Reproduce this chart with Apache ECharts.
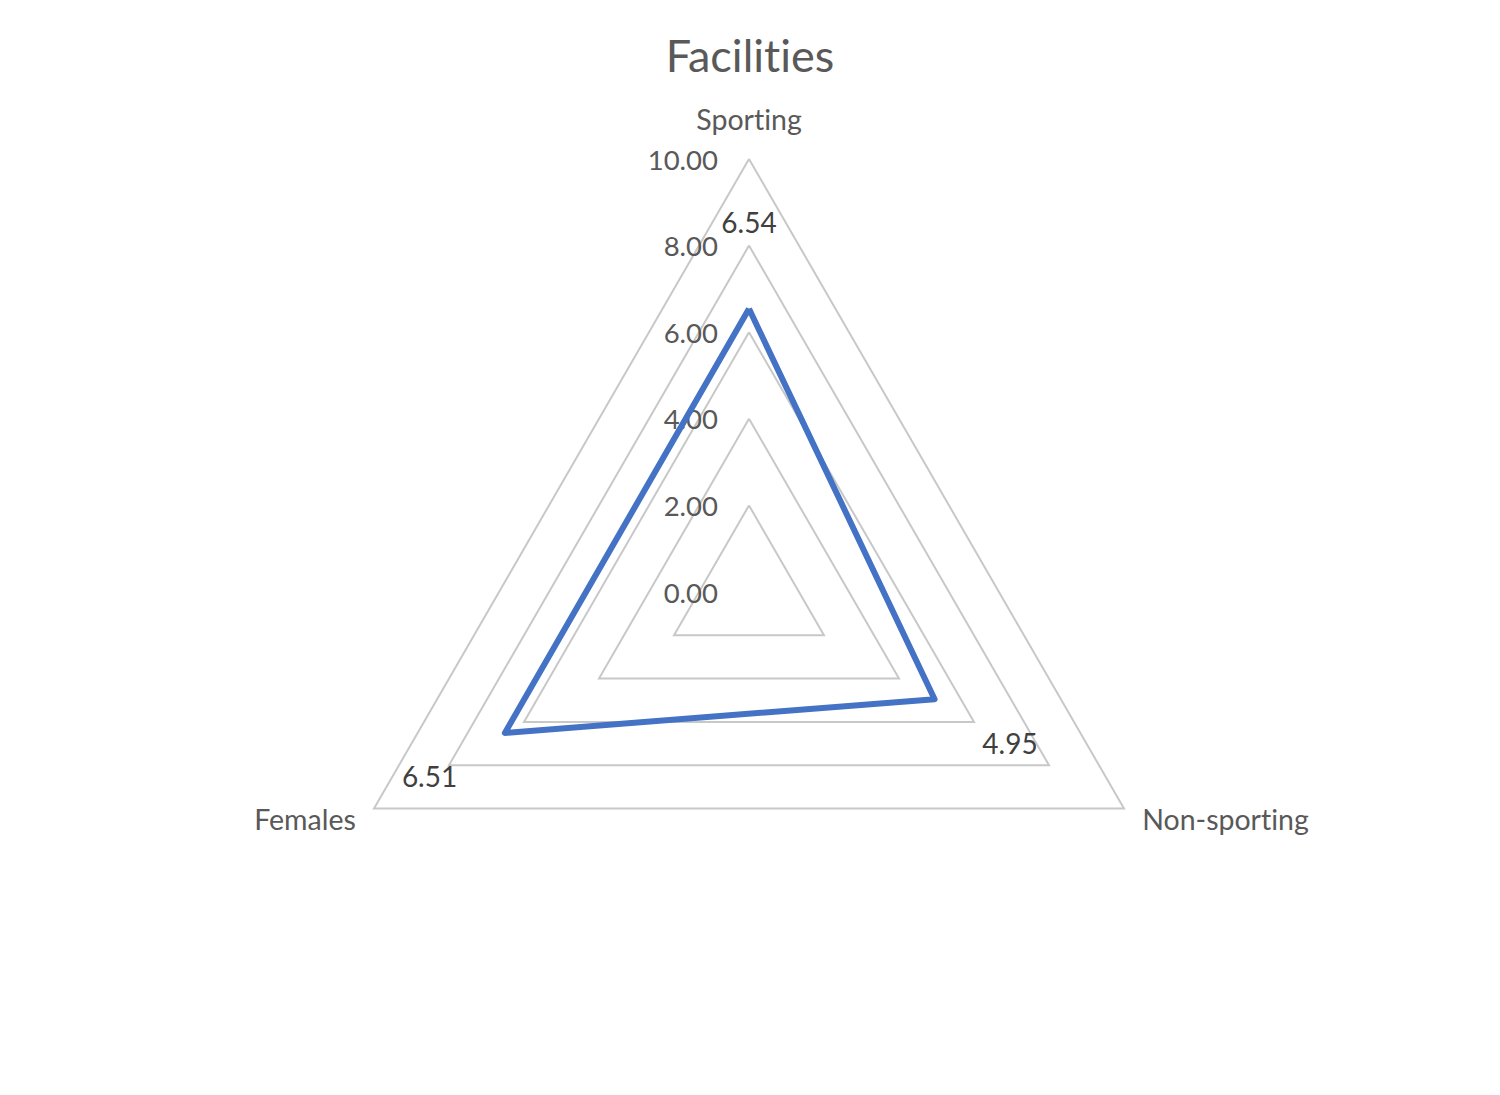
<!DOCTYPE html>
<html>
<head>
<meta charset="utf-8">
<title>Facilities</title>
<script src="https://cdn.jsdelivr.net/npm/echarts@6/dist/echarts.min.js"></script>
<style>
    html, body { margin: 0; padding: 0; background: #fff; }
    #facilities { width: 1500px; height: 1095px; }
    #facilities text { font-variant-ligatures: none; font-feature-settings: "liga" 0, "clig" 0; }
</style>
</head>
<body>
<div id="facilities"></div>
<script>
var categories = ['Sporting', 'Non-sporting', 'Females'];
var scores = [6.54, 4.95, 6.51];
var axisMax = 10;

var CX = 749, CY = 592;
var FONT = 'Lato, "Open Sans", sans-serif';

// echarts lays radar axes out counter-clockwise; the original goes clockwise,
// so keep the first axis on top and reverse the rest
function clockwise(arr) {
    return [arr[0]].concat(arr.slice(1).reverse());
}

window.onload = function() {
    var chart = echarts.init(document.getElementById('facilities'), null, { renderer: 'svg' });

    var indicators = clockwise(categories).map(function(name, i) {
        var item = { name: name, min: 0, max: axisMax };
        // only the first (vertical) axis carries the tick labels
        if (i > 0) item.axisLabel = { show: false };
        return item;
    });

    var option = {
        backgroundColor: '#ffffff',
        title: {
            text: 'Facilities',
            left: 'center',
            top: 27,
            textStyle: {
                fontFamily: FONT,
                fontSize: 45,
                fontWeight: 'normal',
                color: '#595959'
            }
        },
        radar: {
            center: [CX, CY],
            radius: 433,
            shape: 'polygon',
            startAngle: 90,
            splitNumber: 5,
            nameGap: 21,
            indicator: indicators,
            axisName: {
                fontFamily: FONT,
                fontSize: 28.5,
                color: '#595959',
                padding: [0, 0, 5, 0]
            },
            axisLine: { show: false },
            axisTick: { show: false },
            axisLabel: {
                show: true,
                margin: 31,
                fontFamily: FONT,
                fontSize: 27.5,
                color: '#595959',
                formatter: function(v) { return Number(v).toFixed(2); }
            },
            splitLine: {
                lineStyle: { color: '#c8c8c8', width: 2 }
            },
            splitArea: { show: false }
        },
        series: [{
            name: 'Facilities',
            type: 'radar',
            symbol: 'circle',
            symbolSize: 1,
            lineStyle: { color: '#4472c4', width: 6 },
            itemStyle: { color: '#4472c4' },
            label: {
                show: true,
                position: 'inside',
                fontFamily: FONT,
                fontSize: 28,
                color: '#404040',
                formatter: function(p) { return Number(p.value).toFixed(2); }
            },
            // push each value label outward along its own axis
            labelLayout: function(p) {
                var x = p.rect.x + p.rect.width / 2 - CX;
                var y = p.rect.y + p.rect.height / 2 - CY;
                var d = Math.sqrt(x * x + y * y) || 1;
                return { dx: x / d * 87, dy: y / d * 87 };
            },
            data: [{ value: clockwise(scores), name: 'Facilities' }]
        }]
    };

    chart.setOption(option);
};
</script>
</body>
</html>
